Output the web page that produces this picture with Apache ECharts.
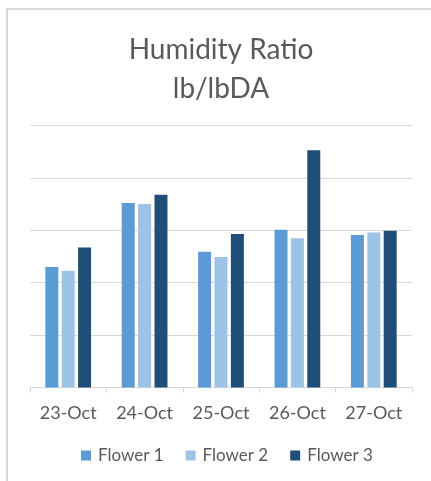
<!DOCTYPE html>
<html>
<head>
<meta charset="utf-8">
<script src="https://cdn.jsdelivr.net/npm/echarts@6/dist/echarts.min.js"></script>
<style>
html,body{margin:0;padding:0;background:#fff;}
#chart{width:431px;height:481px;}
</style>
</head>
<body>
<div id="chart"></div>
<script>
var categories = ['23-Oct', '24-Oct', '25-Oct', '26-Oct', '27-Oct'];
var flower1 = [2.30, 3.52, 2.59, 3.01, 2.91];
var flower2 = [2.23, 3.50, 2.49, 2.85, 2.96];
var flower3 = [2.67, 3.68, 2.93, 4.53, 2.99];
var seriesNames = ['Flower 1', 'Flower 2', 'Flower 3'];
var titleText = 'Humidity Ratio\nlb/lbDA';

var FONT = 'Lato';
var colors = ['#5B9BD5', '#9DC3E6', '#1F4E79'];
var chart = echarts.init(document.getElementById('chart'), null, {renderer: 'canvas'});

function bar(name, data, color) {
  return {
    name: name,
    type: 'bar',
    data: data,
    barWidth: 13,
    barGap: '26%',
    itemStyle: {color: color},
    emphasis: {disabled: true}
  };
}

chart.setOption({
  animation: false,
  backgroundColor: '#ffffff',
  color: colors,
  graphic: [{
    type: 'rect',
    shape: {x: 7, y: 9, width: 600, height: 600},
    style: {fill: 'none', stroke: '#d9d9d9', lineWidth: 2},
    silent: true
  }],
  title: {
    text: titleText,
    left: 216,
    top: 25,
    textAlign: 'center',
    textStyle: {fontFamily: FONT, fontSize: 28, fontWeight: 'normal', color: '#595959', lineHeight: 39}
  },
  legend: {
    data: seriesNames,
    left: 81,
    top: 447,
    padding: 0,
    icon: 'rect',
    itemWidth: 10,
    itemHeight: 10,
    itemGap: 22,
    textStyle: {fontFamily: FONT, fontSize: 17, color: '#595959', padding: [0, 0, 0, 2]}
  },
  grid: {left: 30, right: 19, top: 125.5, bottom: 93.5, containLabel: false},
  xAxis: {
    type: 'category',
    data: categories,
    boundaryGap: true,
    axisLine: {show: true, lineStyle: {color: '#d9d9d9', width: 1}},
    axisTick: {show: true, length: 5, lineStyle: {color: '#d9d9d9'}},
    axisLabel: {fontFamily: FONT, fontSize: 18, color: '#595959', margin: 17}
  },
  yAxis: {
    type: 'value',
    min: 0,
    max: 5,
    interval: 1,
    axisLine: {show: false},
    axisTick: {show: false},
    axisLabel: {show: false},
    splitLine: {show: true, lineStyle: {color: '#d9d9d9', width: 1}}
  },
  series: [
    bar(seriesNames[0], flower1, colors[0]),
    bar(seriesNames[1], flower2, colors[1]),
    bar(seriesNames[2], flower3, colors[2])
  ]
});
</script>
</body>
</html>
